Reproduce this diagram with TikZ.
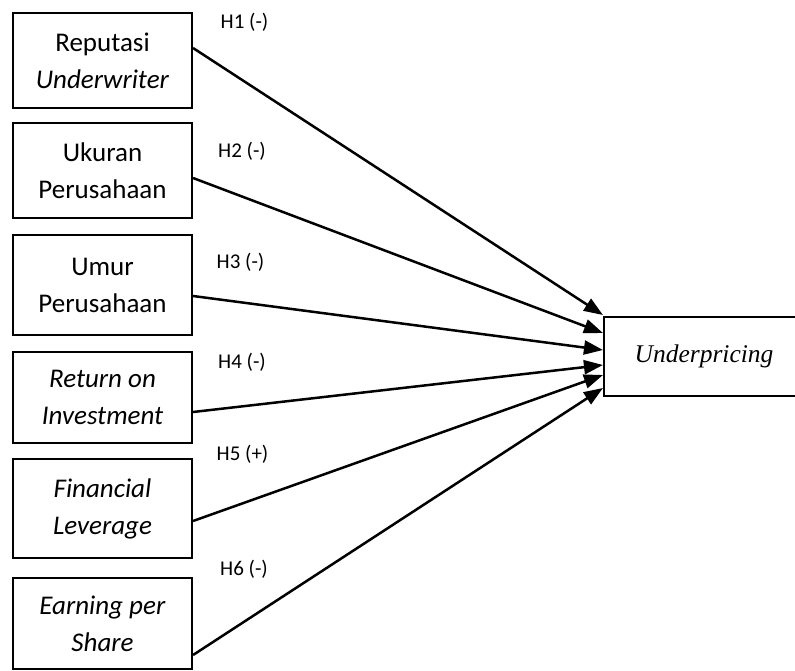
\documentclass[tikz,border=0pt]{standalone}
\usepackage{fontspec}
\setmainfont{Carlito}
\newfontfamily\serifkotak{Liberation Serif}
\usetikzlibrary{arrows.meta}

\begin{document}
\begin{tikzpicture}[x=1pt, y=-1pt, >={Triangle[length=19pt,width=14pt]},
  varbox/.style={draw, line width=2.1pt, minimum width=179pt, inner sep=0pt,
    align=center, font=\fontsize{27}{37}\selectfont},
  hip/.style={anchor=base, inner sep=0pt, font=\fontsize{21}{24}\selectfont},
  panah/.style={->, line width=2.5pt}]
  \useasboundingbox (0,0) rectangle (795,670);
  % variabel independen
  \node[varbox, minimum height=95pt]  (b1) at (102.5,60.5)  {Reputasi\\\textit{Underwriter}};
  \node[varbox, minimum height=95pt]  (b2) at (102.5,170.5) {Ukuran\\Perusahaan};
  \node[varbox, minimum height=100pt] (b3) at (102.5,285)   {Umur\\Perusahaan};
  \node[varbox, minimum height=91pt]  (b4) at (102.5,397.5) {\textit{Return on}\\\textit{Investment}};
  \node[varbox, minimum height=99pt]  (b5) at (102.5,508.5) {\textit{Financial}\\\textit{Leverage}};
  \node[varbox, minimum height=91pt]  (b6) at (102.5,623.5) {\textit{Earning per}\\\textit{Share}};
  % variabel dependen (sisi kanan terpotong)
  \node[draw, line width=2.1pt, minimum width=240pt, minimum height=79pt] (up) at (724,356.5) {};
  \node[font=\fontsize{25.5}{30}\serifkotak\itshape] (uplbl) at (704,356.5) {Underpricing};
  % hipotesis
  \node[hip] (h1) at (244.5,28)  {H1 (-)};
  \node[hip] (h2) at (242,157)   {H2 (-)};
  \node[hip] (h3) at (240.5,268) {H3 (-)};
  \node[hip] (h4) at (242,368)   {H4 (-)};
  \node[hip] (h5) at (242.5,460) {H5 (+)};
  \node[hip] (h6) at (244,575)   {H6 (-)};
  % panah
  \draw[panah] ([yshift=12.5pt]b1.east) -- ([yshift=41.5pt]up.west);
  \draw[panah] ([yshift=-7.5pt]b2.east) -- ([yshift=23.5pt]up.west);
  \draw[panah] ([yshift=-11pt]b3.east)  -- ([yshift=6.5pt]up.west);
  \draw[panah] ([yshift=-14.5pt]b4.east) -- ([yshift=-8.5pt]up.west);
  \draw[panah] ([yshift=-12.5pt]b5.east) -- ([yshift=-18.5pt]up.west);
  \draw[panah] ([yshift=-31.5pt]b6.east) -- ([yshift=-31.5pt]up.west);
\end{tikzpicture}
\end{document}
